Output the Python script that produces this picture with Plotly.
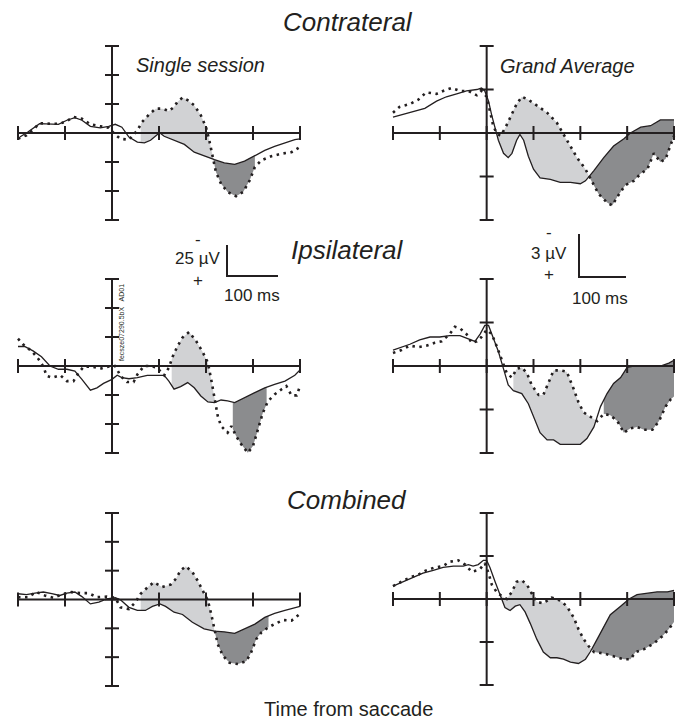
import numpy as np
import plotly.graph_objects as go

W, H = 684, 721
INK = "#231f20"
LIGHT = "#d1d2d4"
DARK = "#8b8c8e"
FONT = "Liberation Sans, Arial, sans-serif"

# ---------------- tick values ----------------
TIME_TICKS = [-200, -100, 0, 100, 200, 300, 400]          # ms
SINGLE_UV_TICKS = [-75, -50, -25, 0, 25, 50, 75]            # µV (negative up)
GRAND_UV_TICKS = [-6, -3, 0, 3, 6]                          # µV (negative up)

# ---------------- Contralateral, single session ----------------
contra_single_solid_t = [-196, -179, -154, -132, -114, -96, -79, -64, -46, -25, -7, 7, 21, 36, 54, 69, 82, 96, 102, 111,
                         132, 154, 175, 196, 218, 239, 261, 282, 304, 325, 346, 368, 389, 400]
contra_single_solid_v = [3.5, -0.8, -8, -8, -7.5, -11, -13.3, -11, -5.8, -4.5, -5.8, -7.5, -5, 3.5, 7.8, 8.5, 6.3, 1.5, 0, 2.8,
                         6.3, 9.8, 16.5, 20, 23, 25.8, 27, 24.3, 19.3, 15, 11.5, 8.5, 5.8, 5]
contra_single_dot_t = [-200, -182, -168, -154, -132, -111, -96, -82, -64, -46, -25, -7, 7, 18, 36, 54, 64, 79, 93, 107,
                       121, 132, 139, 150, 161, 175, 189, 200, 207, 214, 221, 232, 246, 264, 279, 293, 304, 318, 339, 361,
                       382, 400]
contra_single_dot_v = [5, 2, -2.8, -8.5, -8, -8, -10.3, -13.8, -12.3, -7.5, -5.8, -4.5, 1.5, 5, 5.8, -2.3, -9.5, -16, -21, -21,
                       -19, -22.5, -26.8, -30.5, -28.3, -23.8, -15.3, -5, 6.3, 19.3, 33.5, 43.8, 50.8, 54.5, 50.8, 40.8, 29.3, 23.5, 20, 17.8,
                       16.5, 12]
contra_single_light = (61, 214)
contra_single_dark = (214, 304)

# ---------------- Contralateral, grand average ----------------
contra_grand_solid_t = [-200, -179, -157, -132, -107, -86, -64, -43, -21, -11, -4, 4, 11, 18, 25, 36, 46, 54, 64, 71,
                        79, 89, 100, 114, 136, 157, 179, 200, 211, 229, 250, 271, 293, 307, 329, 350, 371, 400]
contra_grand_solid_v = [-1.1, -1.3, -1.5, -1.7, -2.2, -2.5, -2.7, -2.9, -3.0, -3.1, -2.9, -2.2, -1.2, -0.3, 0.5, 1.4, 1.7, 1.4, 0.5, 0.1,
                        0.5, 1.6, 2.5, 3.1, 3.2, 3.4, 3.4, 3.5, 3.3, 2.6, 1.7, 0.9, 0.4, 0, -0.4, -0.5, -0.9, -0.9]
contra_grand_dot_t = [-200, -186, -164, -146, -129, -107, -93, -75, -57, -39, -21, -11, 0, 7, 14, 21, 29, 39, 50, 64,
                      75, 89, 107, 129, 150, 171, 193, 211, 225, 239, 257, 268, 279, 296, 314, 329, 343, 357, 371, 382,
                      393, 400]
contra_grand_dot_v = [-1.4, -1.8, -2.0, -2.3, -2.8, -2.7, -2.9, -3.1, -2.9, -2.9, -2.6, -2.9, -2.5, -1.4, -0.5, 0, 0.2, -0.3, -1.1, -2.0,
                      -2.5, -2.3, -1.9, -1.4, -0.7, 0.5, 1.7, 2.5, 3.4, 4.2, 4.8, 5.0, 4.4, 3.6, 3.3, 2.8, 2.5, 1.4, 2.0, 1.8,
                      0.8, 0.2]
contra_grand_light = (22, 218)
contra_grand_dark = (218, 400)

# ---------------- Ipsilateral, single session ----------------
ipsi_single_solid_t = [-200, -186, -168, -150, -132, -114, -96, -79, -64, -46, -32, -18, 0, 11, 21, 36, 54, 75, 96, 111,
                       121, 132, 146, 161, 175, 189, 204, 218, 232, 246, 261, 282, 304, 325, 346, 368, 389, 400]
ipsi_single_solid_v = [-16.8, -16.8, -13, -8, 0, 2.8, 2.8, 4.3, 11.5, 20.8, 18.8, 15, 11.5, 8, 10, 11, 10, 8, 8, 8,
                       13, 20, 17.8, 14.3, 18.8, 25.8, 31, 31.5, 29.3, 30, 31.5, 27.3, 23, 18.8, 15.8, 13, 8, 3.5]
ipsi_single_dot_t = [-200, -186, -171, -157, -146, -139, -128, -110, -96, -82, -71, -60, -43, -25, -7, 7, 18, 32, 46, 54,
                     68, 82, 96, 111, 121, 129, 139, 150, 164, 179, 193, 204, 211, 218, 225, 232, 246, 254, 264, 275,
                     289, 300, 311, 321, 332, 346, 361, 371, 382, 393, 400]
ipsi_single_dot_v = [-23.5, -17.3, -13, -6.3, 0.5, 8.5, 10, 8, 13, 13, 5.8, 0.5, 0.5, 2.3, 0.5, 0, 8.5, 13.8, 13.8, 7.3,
                     0, 0, 1.5, 8, 1.5, -8, -16.8, -24.5, -29.3, -21.5, -12, -2.8, 11.5, 27.3, 43, 51.8, 57.5, 51.8, 60.3, 67.5,
                     74.8, 69, 54.5, 40.3, 30.3, 24.5, 20, 17.3, 25.3, 25.3, 17.3]
ipsi_single_light = (127, 219)
ipsi_single_dark = (257, 329)

# ---------------- Ipsilateral, grand average ----------------
ipsi_grand_solid_t = [-200, -182, -164, -143, -121, -100, -79, -57, -39, -25, -14, -4, 4, 14, 25, 36, 46, 57, 75, 89,
                      100, 114, 129, 143, 157, 179, 200, 214, 229, 243, 257, 271, 286, 300, 314, 343, 371, 389, 400]
ipsi_grand_solid_v = [-1.1, -1.3, -1.5, -1.8, -2.0, -2.0, -2.1, -2.1, -1.9, -1.7, -2.2, -2.8, -2.8, -2.0, -1.0, 0.2, 1.3, 1.7, 1.9, 2.6,
                      3.5, 4.6, 5.1, 5.1, 5.4, 5.4, 5.4, 5.0, 4.2, 2.8, 1.9, 1.2, 0.8, 0.1, 0, 0, 0, -0.2, -0.4]
ipsi_grand_dot_t = [-200, -182, -164, -146, -129, -111, -96, -79, -68, -57, -43, -32, -21, -11, 0, 11, 21, 32, 43, 54,
                    64, 75, 86, 96, 111, 121, 132, 143, 157, 171, 186, 196, 207, 221, 236, 250, 264, 279, 293, 307,
                    321, 336, 354, 368, 382, 393, 400]
ipsi_grand_dot_v = [-0.9, -1.1, -1.4, -1.3, -1.4, -1.6, -1.7, -2.2, -2.7, -2.6, -2.2, -1.6, -1.7, -2.0, -2.5, -2.2, -1.4, -0.4, 0.5, 0.8,
                    0.2, 0.1, 0.5, 1.3, 2.0, 2.0, 1.1, 0.3, 0.3, 0.4, 1.6, 2.5, 3.2, 3.5, 3.8, 3.3, 3.4, 3.8, 4.6, 4.3,
                    4.2, 4.4, 4.4, 3.8, 2.8, 2.3, 2.1]
ipsi_grand_light = (57, 234)
ipsi_grand_dark = (250, 400)

# ---------------- Combined, single session ----------------
comb_single_solid_t = [-200, -182, -164, -146, -128, -111, -96, -79, -64, -46, -28, -11, 7, 18, 36, 54, 71, 86, 102, 114,
                       132, 150, 171, 196, 218, 239, 261, 282, 304, 325, 346, 368, 389, 400]
comb_single_solid_v = [-5, -4.3, -5.5, -6.5, -5, -3.5, -5.5, -6.5, -2.5, 3.8, 2.3, -0.5, -1.5, 0.3, 6.8, 9.5, 9.5, 6, 3.8, 6,
                       11, 13, 19.8, 25.5, 27.5, 28, 29.3, 25.5, 21.3, 15.5, 12, 9.5, 7.3, 6]
comb_single_dot_t = [-200, -179, -161, -143, -125, -107, -86, -68, -50, -32, -11, 7, 18, 36, 50, 61, 75, 89, 107, 125,
                     136, 146, 157, 171, 182, 193, 204, 211, 218, 225, 236, 250, 268, 286, 296, 307, 318, 332, 346, 364,
                     382, 400]
comb_single_dot_v = [-2, -2, -6.5, -3.5, -1.5, -4.3, -6.5, -5.5, -5.5, -2, -2.5, -1.5, 6.8, 8.3, 2.3, -5, -10.3, -15, -10.8, -13,
                     -18, -25.3, -28.8, -23.8, -16.5, -7.8, 0.8, 12.5, 27, 38.8, 48.8, 54.8, 56, 53.3, 46, 34.3, 28.5, 24.3, 21.3, 17.8,
                     18.3, 12.5]
comb_single_light = (61, 218)
comb_single_dark = (218, 333)

# ---------------- Combined, grand average ----------------
comb_grand_solid_t = [-200, -179, -157, -136, -114, -93, -71, -50, -39, -29, -18, -7, 0, 7, 18, 29, 39, 50, 61, 71,
                      82, 93, 107, 121, 136, 150, 164, 179, 196, 211, 221, 236, 250, 264, 286, 304, 321, 343, 364, 386,
                      400]
comb_grand_solid_v = [-0.9, -1.2, -1.5, -1.8, -2.0, -2.2, -2.3, -2.3, -2.4, -2.3, -2.4, -2.7, -2.7, -2.2, -1.2, -0.2, 0.6, 0.8, 0.5, 0.4,
                      0.9, 1.7, 2.8, 3.7, 4.1, 4.1, 4.2, 4.4, 4.5, 4.2, 3.7, 2.8, 1.9, 1.1, 0.5, 0, -0.3, -0.4, -0.5, -0.5,
                      -0.6]
comb_grand_dot_t = [-200, -182, -164, -146, -129, -111, -93, -79, -61, -46, -32, -21, -14, -4, 4, 11, 21, 32, 43, 54,
                    64, 75, 86, 96, 107, 121, 139, 157, 171, 186, 196, 207, 218, 229, 250, 271, 293, 307, 318, 336,
                    357, 375, 389, 400]
comb_grand_dot_v = [-0.9, -1.2, -1.5, -1.7, -2.0, -2.2, -2.3, -2.6, -2.7, -2.4, -1.9, -2.0, -2.1, -2.5, -1.8, -1.0, -0.5, -0.2, 0, -0.5,
                    -1.2, -1.3, -1.0, -0.4, 0.2, 0.3, -0.1, 0.1, 0.5, 1.3, 2.1, 2.8, 3.3, 3.7, 3.8, 4.0, 4.2, 4.2, 3.7, 3.5,
                    3.1, 2.6, 2.1, 1.6]
comb_grand_light = (30, 224)
comb_grand_dark = (224, 400)

# ---------------- panel layout (pixel positions of the axis crosses) ----------------
panels = [
    dict(st=contra_single_solid_t, sv=contra_single_solid_v, dt=contra_single_dot_t, dv=contra_single_dot_v,
         light=contra_single_light, dark=contra_single_dark, yt=SINGLE_UV_TICKS, xpx=(18, 300), ypx=(46, 220)),
    dict(st=contra_grand_solid_t, sv=contra_grand_solid_v, dt=contra_grand_dot_t, dv=contra_grand_dot_v,
         light=contra_grand_light, dark=contra_grand_dark, yt=GRAND_UV_TICKS, xpx=(393, 674), ypx=(46, 220)),
    dict(st=ipsi_single_solid_t, sv=ipsi_single_solid_v, dt=ipsi_single_dot_t, dv=ipsi_single_dot_v,
         light=ipsi_single_light, dark=ipsi_single_dark, yt=SINGLE_UV_TICKS, xpx=(18, 300), ypx=(279, 453)),
    dict(st=ipsi_grand_solid_t, sv=ipsi_grand_solid_v, dt=ipsi_grand_dot_t, dv=ipsi_grand_dot_v,
         light=ipsi_grand_light, dark=ipsi_grand_dark, yt=GRAND_UV_TICKS, xpx=(393, 674), ypx=(279, 453)),
    dict(st=comb_single_solid_t, sv=comb_single_solid_v, dt=comb_single_dot_t, dv=comb_single_dot_v,
         light=comb_single_light, dark=comb_single_dark, yt=SINGLE_UV_TICKS, xpx=(18, 300), ypx=(513, 686)),
    dict(st=comb_grand_solid_t, sv=comb_grand_solid_v, dt=comb_grand_dot_t, dv=comb_grand_dot_v,
         light=comb_grand_light, dark=comb_grand_dark, yt=GRAND_UV_TICKS, xpx=(393, 674), ypx=(513, 685)),
]


def band(st, sv, dt, dv, win):
    a, b = win
    grid = sorted(set([a, b] + [t for t in list(st) + list(dt) if a < t < b]))
    s = np.interp(grid, st, sv)
    d = np.interp(grid, dt, dv)
    return grid + grid[::-1], list(d) + list(s[::-1])


fig = go.Figure()
layout_axes = {}
for i, p in enumerate(panels, start=1):
    xa = "x" if i == 1 else f"x{i}"
    ya = "y" if i == 1 else f"y{i}"
    t0, t1 = TIME_TICKS[0], TIME_TICKS[-1]
    v0, v1 = p["yt"][0], p["yt"][-1]
    xpad = 15
    ypad = (v1 - v0) / 30.0
    ppx = (p["xpx"][1] - p["xpx"][0]) / (t1 - t0)
    ppy = (p["ypx"][1] - p["ypx"][0]) / (v1 - v0)
    xd = [(p["xpx"][0] - xpad * ppx) / W, (p["xpx"][1] + xpad * ppx) / W]
    top = p["ypx"][0] - ypad * ppy
    bot = p["ypx"][1] + ypad * ppy
    yd = [1 - bot / H, 1 - top / H]
    common = dict(showgrid=False, zeroline=False, showticklabels=False, showline=False, ticks="", fixedrange=True)
    layout_axes["xaxis" if i == 1 else f"xaxis{i}"] = dict(domain=xd, range=[t0 - xpad, t1 + xpad], anchor=ya, **common)
    layout_axes["yaxis" if i == 1 else f"yaxis{i}"] = dict(domain=yd, range=[v1 + ypad, v0 - ypad], anchor=xa, **common)

    for win, col in ((p["light"], LIGHT), (p["dark"], DARK)):
        bx, by = band(p["st"], p["sv"], p["dt"], p["dv"], win)
        fig.add_trace(go.Scatter(x=bx, y=by, mode="none", fill="toself", fillcolor=col,
                                 xaxis=xa, yaxis=ya, hoverinfo="skip", showlegend=False))
    # axes cross
    fig.add_trace(go.Scatter(x=[t0, t1, None, 0, 0], y=[0, 0, None, v0, v1], mode="lines",
                             line=dict(color=INK, width=2), xaxis=xa, yaxis=ya, hoverinfo="skip", showlegend=False))
    fig.add_trace(go.Scatter(x=TIME_TICKS, y=[0] * len(TIME_TICKS), mode="markers", cliponaxis=False,
                             marker=dict(symbol="line-ns", size=10, line=dict(color=INK, width=2)),
                             xaxis=xa, yaxis=ya, hoverinfo="skip", showlegend=False))
    fig.add_trace(go.Scatter(x=[0] * len(p["yt"]), y=p["yt"], mode="markers", cliponaxis=False,
                             marker=dict(symbol="line-ew", size=10, line=dict(color=INK, width=2)),
                             xaxis=xa, yaxis=ya, hoverinfo="skip", showlegend=False))
    # waveforms
    fig.add_trace(go.Scatter(x=p["st"], y=p["sv"], mode="lines", line=dict(color=INK, width=1.3),
                             xaxis=xa, yaxis=ya, hoverinfo="skip", showlegend=False))
    fig.add_trace(go.Scatter(x=p["dt"], y=p["dv"], mode="lines", line=dict(color=INK, width=2.6, dash="2.5px,4.5px"),
                             xaxis=xa, yaxis=ya, hoverinfo="skip", showlegend=False))


def ann(text, x, y, size, italic=False, angle=0):
    return dict(text=f"<i>{text}</i>" if italic else text, x=x / W, y=1 - y / H, xref="paper", yref="paper",
                xanchor="center", yanchor="middle", showarrow=False, textangle=angle,
                font=dict(family=FONT, size=size, color=INK))


annotations = [
    ann("Contrateral", 348, 22, 26, True),
    ann("Ipsilateral", 347, 250, 26, True),
    ann("Combined", 347, 500, 26, True),
    ann("Single session", 200, 65, 20, True),
    ann("Grand Average", 567, 66, 20, True),
    ann("Time from saccade", 348, 709, 20),
    ann("-", 198, 239, 17), ann("25 µV", 197, 258, 17), ann("+", 198, 280, 17), ann("100 ms", 252, 295, 17),
    ann("-", 549, 232, 17), ann("3 µV", 549, 253, 17), ann("+", 549, 274, 17), ann("100 ms", 600, 298, 17),
    ann("fecsze07290.5bX   AD01", 121, 323, 7, angle=-90),
]


def bar(x, ytop, ybot, xr):
    return dict(type="path", xref="paper", yref="paper",
                path=f"M {x / W},{1 - ytop / H} L {x / W},{1 - ybot / H} L {xr / W},{1 - ybot / H}",
                line=dict(color=INK, width=2))


shapes = [bar(227, 245, 276, 278), bar(579, 234, 277, 626)]

fig.update_layout(width=W, height=H, margin=dict(l=0, r=0, t=0, b=0), paper_bgcolor="white",
                  plot_bgcolor="rgba(0,0,0,0)", annotations=annotations, shapes=shapes, **layout_axes)
fig.write_html("out.html", config={"displayModeBar": False},
               post_script="document.body.style.margin='0';document.body.style.overflow='hidden';")
